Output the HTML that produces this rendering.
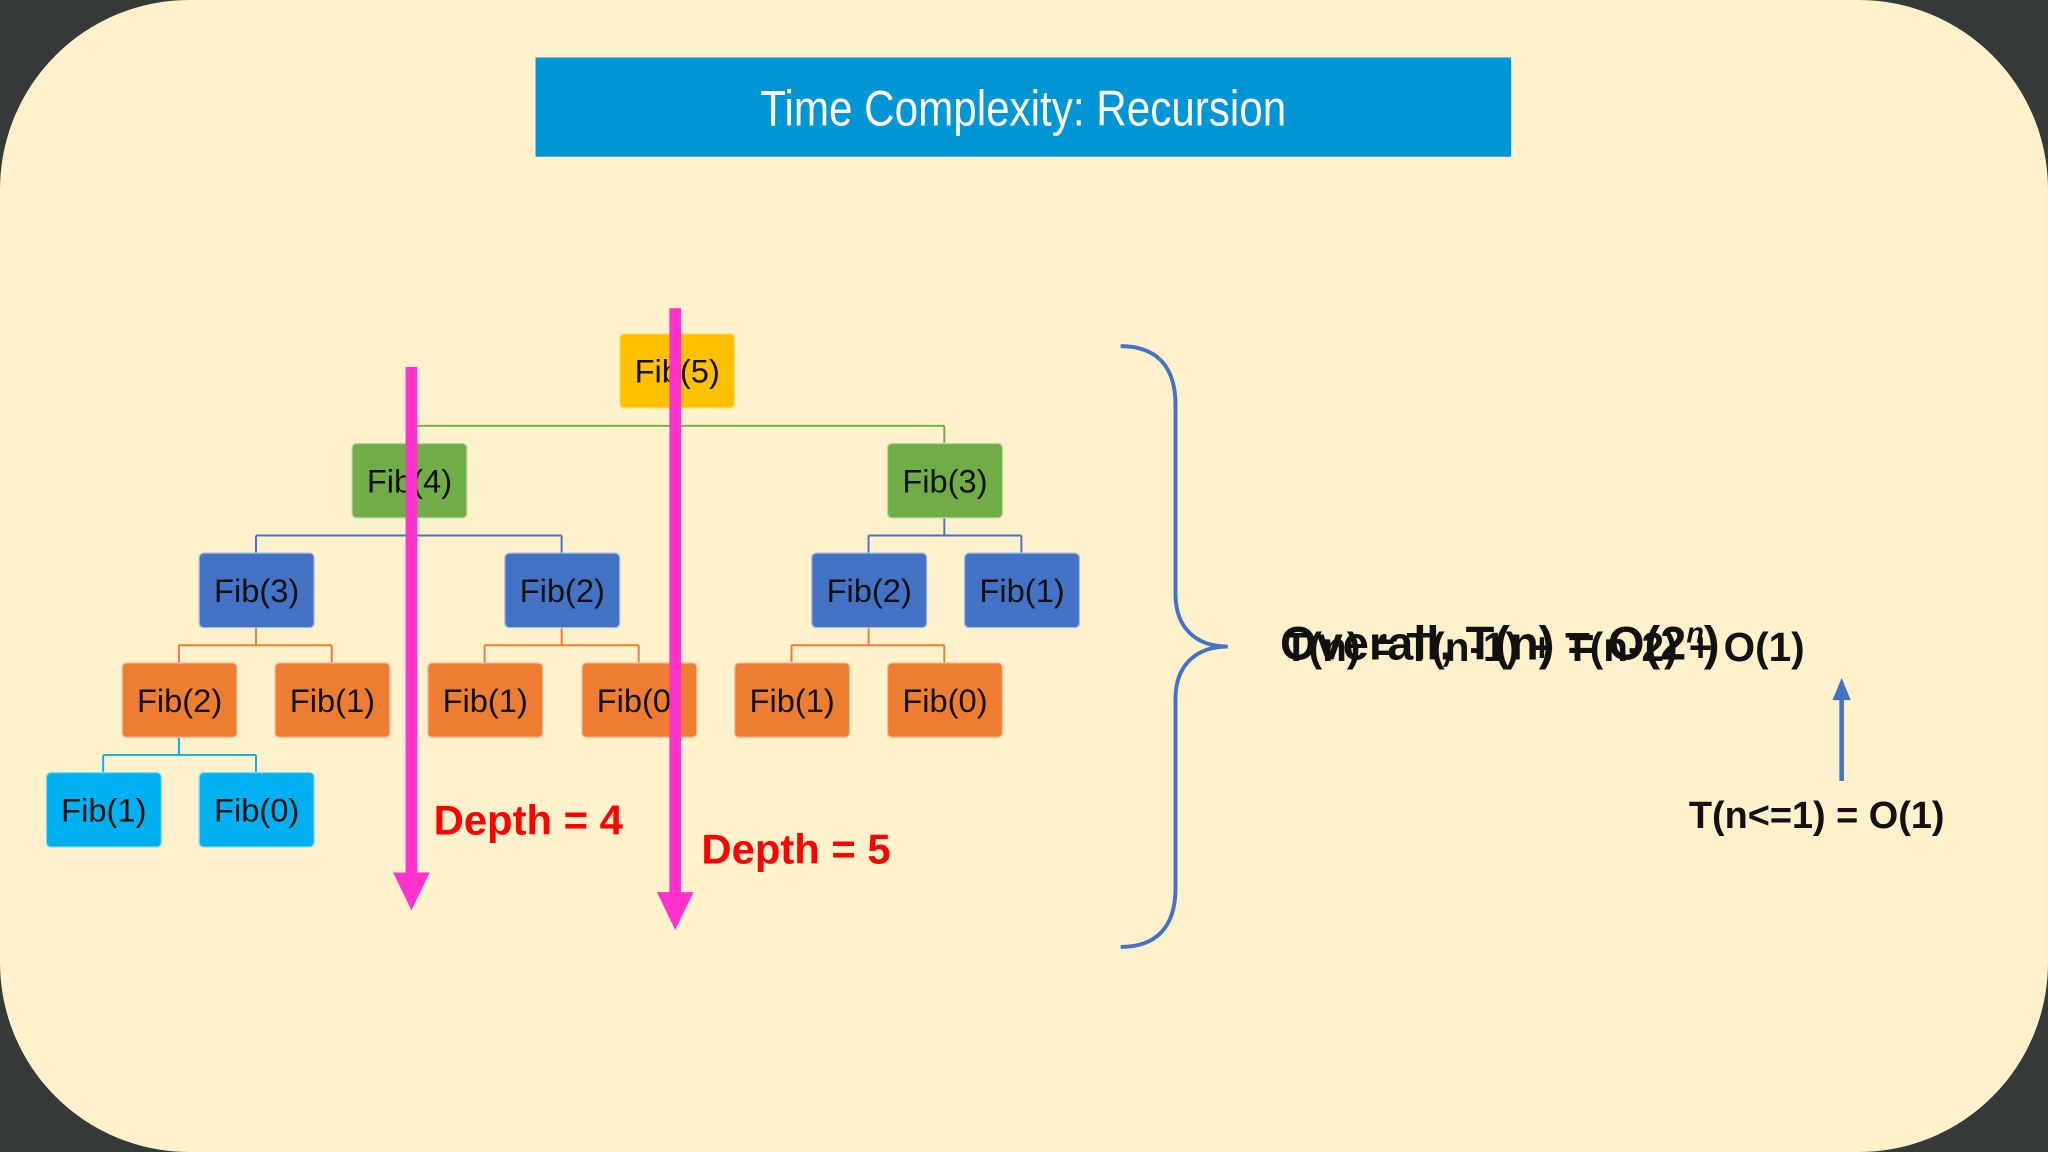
<!DOCTYPE html>
<html><head><meta charset="utf-8"><style>
html,body{margin:0;padding:0;background:#353a38;width:2048px;height:1152px;overflow:hidden}
#s{position:absolute;left:0;top:0;width:1568px;height:882px;transform:scale(1.306122);transform-origin:0 0;background:#fff1cc;border-radius:145px;font-family:"Liberation Sans",sans-serif}
.t{position:absolute;left:410px;top:44px;width:747px;height:76px;background:#0096d6;color:#fff}
.t span{position:absolute;left:0;width:747px;top:0;font-size:38px;line-height:80px;text-align:center;transform:scaleX(0.85);transform-origin:373px 0}
.n{position:absolute;width:89px;height:58px;border-radius:4px;font-size:25px;line-height:58px;text-align:center;color:#111;box-sizing:border-box;border:1px solid rgba(255,255,255,.5)}
.y{background:#ffc000}.g{background:#70ad47}.b{background:#4472c4}.o{background:#ed7d31}.c{background:#00b0f0}
.d{position:absolute;color:#f00;font-weight:bold;font-size:32px}
svg{position:absolute;left:0;top:0}
.ov{position:absolute;font-weight:bold;font-size:34px;color:#111;white-space:nowrap;top:475px}
</style></head><body><div id="s">
<div class="t"><span>Time Complexity: Recursion</span></div>
<svg width="1568" height="882">
<g fill="none" stroke-width="1.5">
<path d="M518 313V326M313 326H723M313 326V339M723 326V339" stroke="#70ad47"/>
<path d="M313 397V410M196 410H430M196 410V423M430 410V423" stroke="#4472c4"/>
<path d="M723 397V410M665 410H782M665 410V423M782 410V423" stroke="#4472c4"/>
<path d="M196 481V494M137 494H254M137 494V507M254 494V507" stroke="#ed7d31"/>
<path d="M430 481V494M371 494H489M371 494V507M489 494V507" stroke="#ed7d31"/>
<path d="M665 481V494M606 494H723M606 494V507M723 494V507" stroke="#ed7d31"/>
<path d="M137 565V578M79 578H196M79 578V591M196 578V591" stroke="#00b0f0"/>
</g>
</svg>
<div class="n y" style="left:474px;top:255px">Fib(5)</div>
<div class="n g" style="left:269px;top:339px">Fib(4)</div>
<div class="n g" style="left:679px;top:339px">Fib(3)</div>
<div class="n b" style="left:152px;top:423px">Fib(3)</div>
<div class="n b" style="left:386px;top:423px">Fib(2)</div>
<div class="n b" style="left:621px;top:423px">Fib(2)</div>
<div class="n b" style="left:738px;top:423px">Fib(1)</div>
<div class="n o" style="left:93px;top:507px">Fib(2)</div>
<div class="n o" style="left:210px;top:507px">Fib(1)</div>
<div class="n o" style="left:327px;top:507px">Fib(1)</div>
<div class="n o" style="left:445px;top:507px">Fib(0)</div>
<div class="n o" style="left:562px;top:507px">Fib(1)</div>
<div class="n o" style="left:679px;top:507px">Fib(0)</div>
<div class="n c" style="left:35px;top:591px">Fib(1)</div>
<div class="n c" style="left:152px;top:591px">Fib(0)</div>
<svg width="1568" height="882">
<path d="M315 281V672" stroke="#ff33cc" stroke-width="9"/>
<path d="M301 668H329L315 697Z" fill="#ff33cc"/>
<path d="M517 236V687" stroke="#ff33cc" stroke-width="9"/>
<path d="M503 683H531L517 712Z" fill="#ff33cc"/>
<path d="M858 265C885 265 900 280 900 310V455C900 480 915 495 940 495C915 495 900 510 900 535V680C900 710 885 725 858 725" fill="none" stroke="#4472c4" stroke-width="3"/>
<path d="M1410 598V532" stroke="#4472c4" stroke-width="3.5"/>
<path d="M1403 536H1417L1410 519Z" fill="#4472c4"/>
</svg>
<div class="d" style="left:332px;top:610px">Depth = 4</div>
<div class="d" style="left:537px;top:632px">Depth = 5</div>
<div class="ov" style="left:980px;font-size:36px;top:472px">Overall, T(n) = O(2<sup style="font-size:22px;font-style:italic">n</sup>)</div>
<div class="ov" style="left:983px;font-size:31px;top:478px">T(n) = T(n-1) + T(n-2) + O(1)</div>
<div class="ov" style="left:1293px;top:609px;font-size:29px">T(n&lt;=1) = O(1)</div>
</div></body></html>
